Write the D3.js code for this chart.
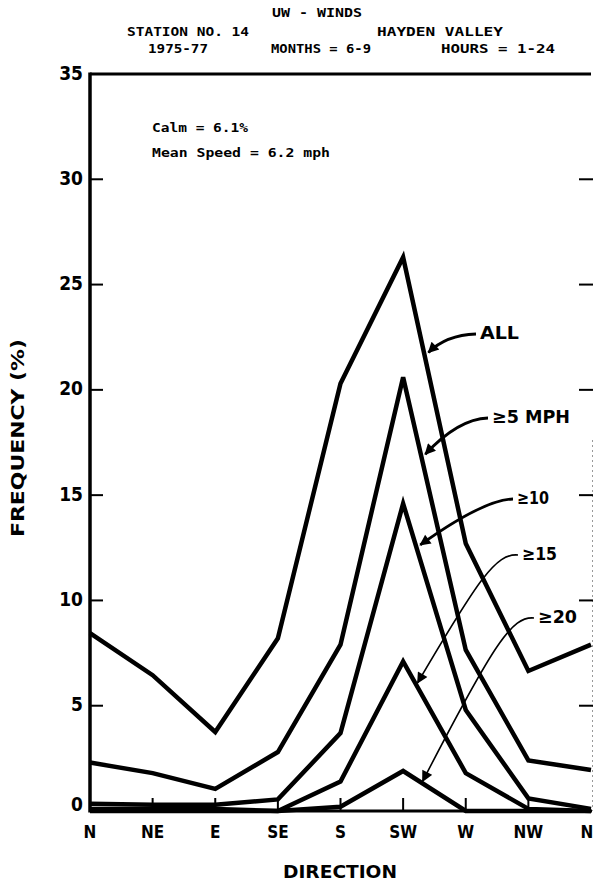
<!DOCTYPE html>
<html>
<head>
<meta charset="utf-8">
<script src="https://cdn.jsdelivr.net/npm/d3@7/dist/d3.min.js"></script>
<style>
  html, body { margin: 0; padding: 0; background: #fff; }
  svg { display: block; }
  text { fill: #000; }
</style>
</head>
<body>
<svg id="chart" width="594" height="885"></svg>
<script>
// ---- data ----
const directions = ["N", "NE", "E", "SE", "S", "SW", "W", "NW", "N"];
const yTicks = [0, 5, 10, 15, 20, 25, 30, 35];
const seriesNames = ["ALL", "≥5 MPH", "≥10", "≥15", "≥20"];
const allWinds = [8.45, 6.45, 3.75, 8.2, 20.3, 26.3, 12.7, 6.65, 7.9];
const ge5 = [2.3, 1.8, 1.05, 2.8, 7.9, 20.6, 7.65, 2.4, 1.95];
const ge10 = [0.35, 0.3, 0.3, 0.55, 3.7, 14.6, 4.8, 0.6, 0.1];
const ge15 = [0.1, 0.1, 0.1, 0.0, 1.4, 7.1, 1.8, 0.1, 0.0];
const ge20 = [0.0, 0.0, 0.0, 0.0, 0.2, 1.9, 0.0, 0.0, 0.0];
const series = [allWinds, ge5, ge10, ge15, ge20];
// fractional direction index where each label arrow points
const arrowAt = [5.34, 5.29, 5.21, 5.2, 5.28];

const svg = d3.select("#chart");
const pLeft = 90, pRight = 591, pTop = 74, pBottom = 811;
const x = d3.scaleLinear().domain([0, directions.length - 1]).range([pLeft, pRight]);
const y = d3.scaleLinear().domain([0, 35]).range([pBottom, pTop]);
const FONT = "'DejaVu Sans Condensed', 'DejaVu Sans', sans-serif";
const MONO = "'DejaVu Sans Mono', monospace";

// ---- titles ----
const titles = [
  {t: "UW - WINDS", x: 317, y: 13, w: 90},
  {t: "STATION NO. 14", x: 188, y: 32, w: 122},
  {t: "HAYDEN VALLEY", x: 440, y: 32, w: 126},
  {t: "1975-77", x: 178, y: 49, w: 60},
  {t: "MONTHS = 6-9", x: 321, y: 49, w: 100},
  {t: "HOURS = 1-24", x: 498, y: 49, w: 114}
];
svg.selectAll("text.title").data(titles).join("text")
  .attr("class", "title")
  .attr("x", d => d.x).attr("y", d => d.y)
  .attr("text-anchor", "middle").attr("dominant-baseline", "middle")
  .attr("textLength", d => d.w).attr("lengthAdjust", "spacingAndGlyphs")
  .style("font-family", MONO).style("font-weight", "bold").style("font-size", "12px")
  .text(d => d.t);

// ---- frame ----
svg.append("line").attr("x1", pLeft).attr("x2", pRight).attr("y1", pTop).attr("y2", pTop)
  .attr("stroke", "#000").attr("stroke-width", 3);
svg.append("line").attr("x1", pLeft).attr("x2", pLeft).attr("y1", pTop - 1.5).attr("y2", pBottom + 1.5)
  .attr("stroke", "#000").attr("stroke-width", 3.5);
svg.append("line").attr("x1", pLeft).attr("x2", pRight + 1).attr("y1", pBottom).attr("y2", pBottom)
  .attr("stroke", "#000").attr("stroke-width", 3);
svg.append("line").attr("x1", pRight + 1.5).attr("x2", pRight + 1.5).attr("y1", 440).attr("y2", pBottom)
  .attr("stroke", "#999").attr("stroke-width", 1).attr("stroke-dasharray", "2,3");

// y ticks (left and right, inward)
const inner = yTicks.filter(v => v > 0 && v < 35);
svg.selectAll("line.ytl").data(inner).join("line")
  .attr("class", "ytl")
  .attr("x1", pLeft).attr("x2", pLeft + 13).attr("y1", d => y(d)).attr("y2", d => y(d))
  .attr("stroke", "#000").attr("stroke-width", 2);
svg.selectAll("line.ytr").data(inner).join("line")
  .attr("class", "ytr")
  .attr("x1", pRight - 12).attr("x2", pRight + 2).attr("y1", d => y(d)).attr("y2", d => y(d))
  .attr("stroke", "#000").attr("stroke-width", 2);
svg.selectAll("text.ylab").data(yTicks).join("text")
  .attr("class", "ylab")
  .attr("x", pLeft - 7).attr("y", d => y(d) - (d === 0 ? 6 : 0))
  .attr("text-anchor", "end").attr("dominant-baseline", "middle")
  .style("font-family", FONT).style("font-weight", "bold").style("font-size", "19px")
  .text(d => d);

// x ticks (upward from bottom)
const xInner = d3.range(1, directions.length - 1);
svg.selectAll("line.xt").data(xInner).join("line")
  .attr("class", "xt")
  .attr("x1", d => x(d)).attr("x2", d => x(d)).attr("y1", pBottom).attr("y2", pBottom - 13)
  .attr("stroke", "#000").attr("stroke-width", 2);
svg.selectAll("text.xlab").data(directions).join("text")
  .attr("class", "xlab")
  .attr("x", (d, i) => Math.min(x(i), 587)).attr("y", 833)
  .attr("text-anchor", "middle").attr("dominant-baseline", "middle")
  .style("font-family", FONT).style("font-weight", "bold").style("font-size", "17px")
  .text(d => d);

// axis titles
svg.append("text").attr("x", 340).attr("y", 873)
  .attr("text-anchor", "middle").attr("dominant-baseline", "middle")
  .attr("textLength", 114).attr("lengthAdjust", "spacingAndGlyphs")
  .style("font-family", FONT).style("font-weight", "bold").style("font-size", "17px")
  .text("DIRECTION");
svg.append("text").attr("transform", "translate(19,438) rotate(-90)")
  .attr("text-anchor", "middle").attr("dominant-baseline", "middle")
  .attr("textLength", 198).attr("lengthAdjust", "spacingAndGlyphs")
  .style("font-family", FONT).style("font-weight", "bold").style("font-size", "17px")
  .text("FREQUENCY (%)");

// notes
const notes = [{t: "Calm = 6.1%", y: 128, w: 96}, {t: "Mean Speed = 6.2 mph", y: 153, w: 178}];
svg.selectAll("text.note").data(notes).join("text")
  .attr("class", "note")
  .attr("x", 152).attr("y", d => d.y).attr("dominant-baseline", "middle")
  .attr("textLength", d => d.w).attr("lengthAdjust", "spacingAndGlyphs")
  .style("font-family", MONO).style("font-weight", "bold").style("font-size", "13px")
  .text(d => d.t);

// ---- series lines ----
const line = d3.line().x((d, i) => x(i)).y(d => y(d)).curve(d3.curveLinear);
svg.selectAll("path.series").data(series).join("path")
  .attr("class", "series")
  .attr("d", line)
  .attr("fill", "none").attr("stroke", "#000").attr("stroke-width", 4.5)
  .attr("stroke-linejoin", "miter").attr("stroke-linecap", "butt");

// ---- labels with arrows ----
const defs = svg.append("defs");
defs.append("marker").attr("id", "ah").attr("viewBox", "0 0 10 10")
  .attr("refX", 9).attr("refY", 5).attr("markerWidth", 13).attr("markerHeight", 11)
  .attr("markerUnits", "userSpaceOnUse").attr("orient", "auto")
  .append("path").attr("d", "M0,0 L10,5 L0,10 Z").attr("fill", "#000");

function pointOn(s, f) {
  const i = Math.floor(f), t = f - i;
  const v = s[i] + (s[i + 1] - s[i]) * t;
  return [x(f), y(v)];
}
const labels = [
  {x: 480, y: 334, w: 39, sw: 2.8},
  {x: 492, y: 418, w: 78, sw: 2.8},
  {x: 517, y: 499, w: 32, sw: 2.8},
  {x: 522, y: 555, w: 35, sw: 1.6},
  {x: 538, y: 618, w: 39, sw: 1.6}
];
labels.forEach((L, k) => {
  const [tx, ty] = pointOn(series[k], arrowAt[k]);
  const sx = L.x - 4, sy = L.y;
  let d;
  if (k < 3) {
    d = `M${sx},${sy} Q${sx - 30},${sy + 1} ${tx + 4},${ty - 2}`;
  } else {
    d = `M${sx},${sy} C${sx - 22},${sy - 2} ${sx - 40},${sy + 25} ${tx + 2},${ty - 1}`;
  }
  svg.append("path").attr("d", d).attr("fill", "none").attr("stroke", "#000")
    .attr("stroke-width", L.sw).attr("marker-end", "url(#ah)");
  svg.append("text").attr("x", L.x).attr("y", L.y)
    .attr("dominant-baseline", "middle")
    .attr("textLength", L.w).attr("lengthAdjust", "spacingAndGlyphs")
    .style("font-family", FONT).style("font-weight", "bold").style("font-size", "18px")
    .text(seriesNames[k]);
});
</script>
</body>
</html>
